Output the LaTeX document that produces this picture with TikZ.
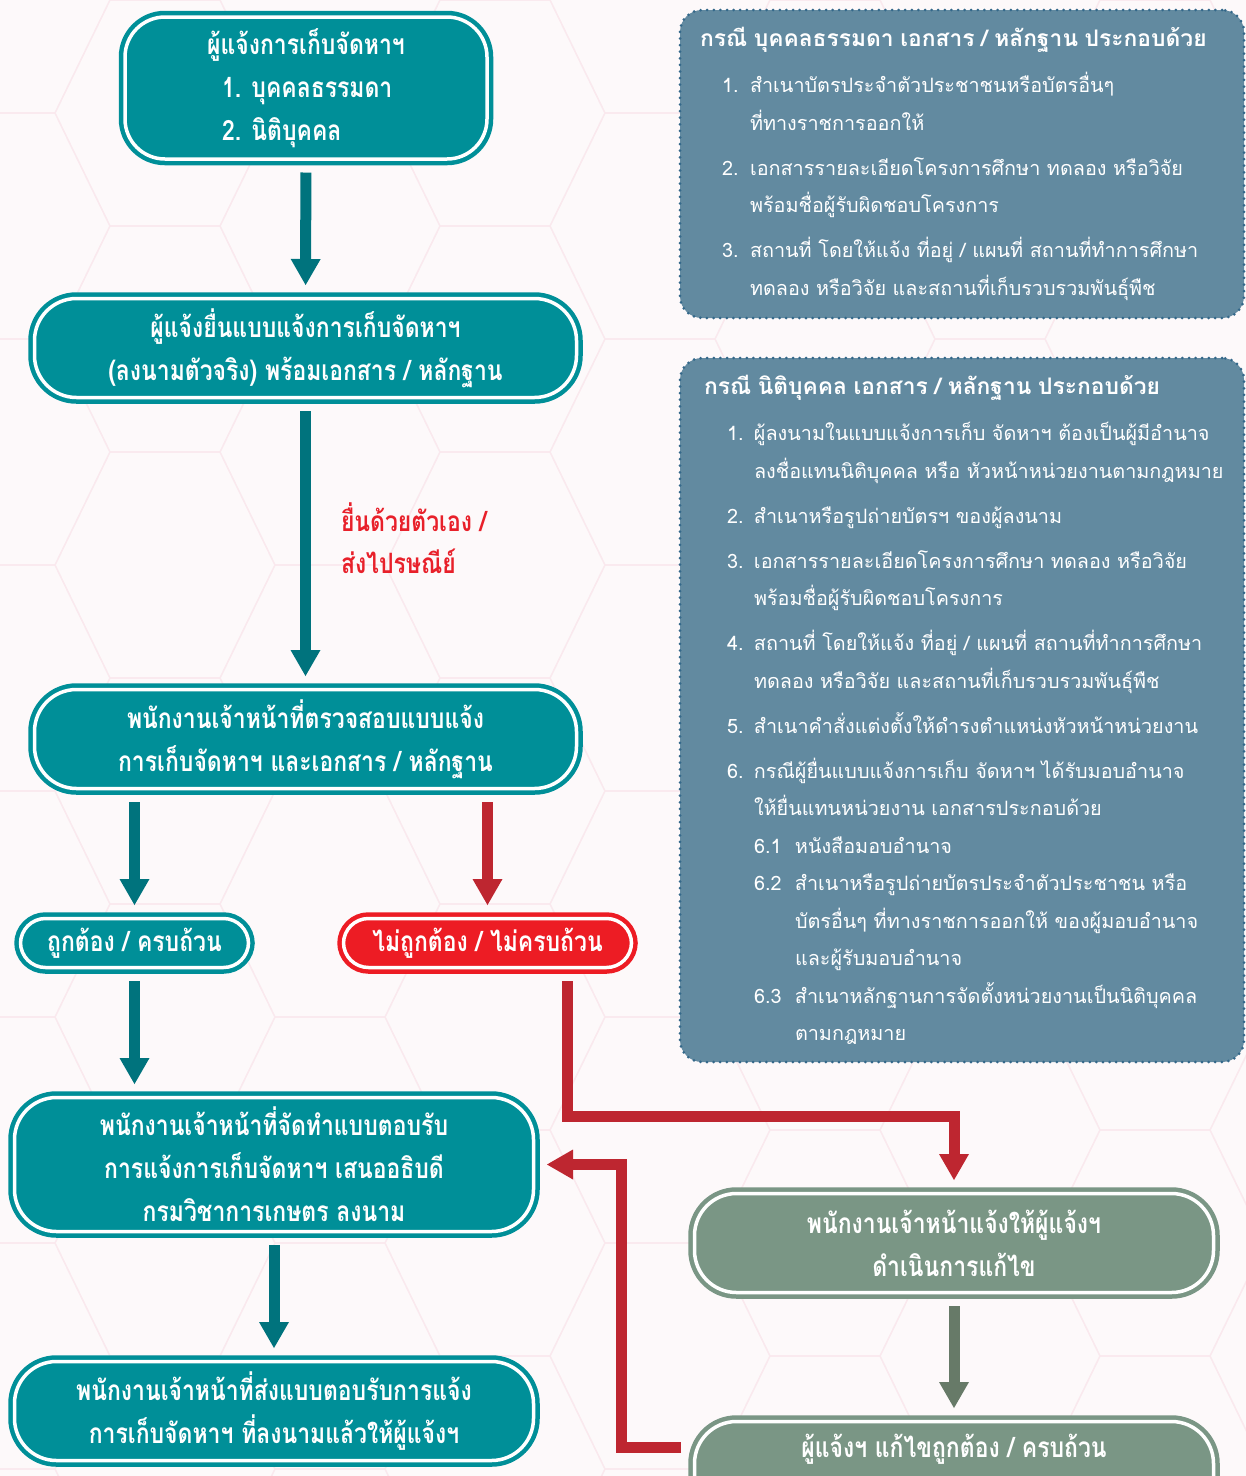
\documentclass[tikz,border=0pt]{standalone}
\usepackage{fontspec}
\usetikzlibrary{arrows.meta,calc}
\newfontfamily\boxfont[Script=Thai,FakeStretch=0.82]{Loma}
\newfontfamily\panelfont[Script=Thai]{Loma}
\definecolor{bgc}{RGB}{253,249,250}
\definecolor{hexc}{RGB}{250,233,238}
\definecolor{tealc}{RGB}{0,143,152}
\definecolor{tealarr}{RGB}{0,115,125}
\definecolor{redfill}{RGB}{237,28,36}
\definecolor{redarr}{RGB}{190,38,48}
\definecolor{lblred}{RGB}{232,32,42}
\definecolor{greenbox}{RGB}{122,150,133}
\definecolor{greenarr}{RGB}{103,122,104}
\definecolor{panelc}{RGB}{98,138,160}
\definecolor{dotc}{RGB}{52,104,138}
\tikzset{
  flowbox/.style={double=white, double distance=3.5pt, line width=4.5pt,
    rounded corners=42pt, text=white, align=center, inner sep=0pt, outer sep=6.5pt,
    font=\boxfont\bfseries\fontsize{28}{43}\selectfont},
  tealbox/.style={flowbox, draw=tealc, fill=tealc},
  redbox/.style={flowbox, draw=redfill, fill=redfill},
  greenbox/.style={flowbox, draw=greenbox, fill=greenbox},
  pill/.style={rounded corners=25pt},
  panel/.style={draw=dotc, fill=panelc, line width=3pt, dash pattern=on 0pt off 6.6pt,
    line cap=round, rounded corners=22pt, text=white, align=left, inner ysep=0pt,
    font=\panelfont\fontsize{19.8}{37.5}\selectfont},
  ptitle/.style={font=\panelfont\bfseries\fontsize{22.8}{37.5}\selectfont},
  tarrow/.style={draw=tealarr, line width=11pt,
    -{Triangle[width=30pt,length=26pt,line width=0pt]}, shorten <=7pt, shorten >=7pt},
  rarrow/.style={draw=redarr, line width=11pt,
    -{Triangle[width=30pt,length=26pt,line width=0pt]}, shorten <=7pt, shorten >=7pt},
  garrow/.style={draw=greenarr, line width=11pt,
    -{Triangle[width=30pt,length=26pt,line width=0pt]}, shorten <=7pt, shorten >=7pt},
  lbl/.style={text=lblred, align=left, inner sep=0pt,
    font=\boxfont\bfseries\fontsize{28}{42}\selectfont}
}
\newcommand{\ptitlefont}{\panelfont\bfseries\fontsize{22.8}{37.5}\selectfont}
\begin{document}
\begin{tikzpicture}[x=1pt,y=-1pt]
\useasboundingbox (0,0) rectangle (1246,1476);
\fill[bgc] (0,0) rectangle (1246,1476);
% faint hexagon background
\foreach \i in {0,...,8}{
  \foreach \j in {-1,...,7}{
    \pgfmathsetmacro\cx{\i*165}
    \pgfmathsetmacro\cy{\j*226+mod(\i,2)*113}
    \draw[hexc, line width=1.2pt] (\cx-110,\cy) -- (\cx-55,\cy-113) -- (\cx+55,\cy-113)
      -- (\cx+110,\cy) -- (\cx+55,\cy+113) -- (\cx-55,\cy+113) -- cycle;
  }
}
% flow boxes
\node[tealbox, minimum width=362, minimum height=142, rounded corners=40pt] (b1) at (306,88)
  {ผู้แจ้งการเก็บจัดหาฯ\\\makebox[168pt][l]{1. บุคคลธรรมดา}\\\makebox[168pt][l]{2. นิติบุคคล}};
\node[tealbox, minimum width=542, minimum height=99] (b2) at (305.5,348)
  {ผู้แจ้งยื่นแบบแจ้งการเก็บจัดหาฯ\\(ลงนามตัวจริง) พร้อมเอกสาร / หลักฐาน};
\node[tealbox, minimum width=542, minimum height=99] (b3) at (305.5,739)
  {พนักงานเจ้าหน้าที่ตรวจสอบแบบแจ้ง\\การเก็บจัดหาฯ และเอกสาร / หลักฐาน};
\node[tealbox, pill, minimum width=228, minimum height=49] (b4) at (134.5,943)
  {ถูกต้อง / ครบถ้วน};
\node[redbox, pill, minimum width=288, minimum height=49] (b5) at (487.5,943)
  {ไม่ถูกต้อง / ไม่ครบถ้วน};
\node[tealbox, minimum width=519, minimum height=134] (b6) at (274,1164.5)
  {พนักงานเจ้าหน้าที่จัดทำแบบตอบรับ\\การแจ้งการเก็บจัดหาฯ เสนออธิบดี\\กรมวิชาการเกษตร ลงนาม};
\node[tealbox, minimum width=519, minimum height=99] (b7) at (274,1411)
  {พนักงานเจ้าหน้าที่ส่งแบบตอบรับการแจ้ง\\การเก็บจัดหาฯ ที่ลงนามแล้วให้ผู้แจ้งฯ};
\node[greenbox, minimum width=519, minimum height=99] (b8) at (954,1243)
  {พนักงานเจ้าหน้าแจ้งให้ผู้แจ้งฯ\\ดำเนินการแก้ไข};
\node[greenbox, minimum width=519, minimum height=99, text height=18pt, text depth=46pt] (b9) at (954,1471)
  {ผู้แจ้งฯ แก้ไขถูกต้อง / ครบถ้วน};
% side panels
\node[panel, minimum width=564, minimum height=308, text width=524, inner xsep=20pt] (p1) at (962,164)
  {{\ptitlefont กรณี บุคคลธรรมดา เอกสาร / หลักฐาน ประกอบด้วย}\\[8.5pt]
   \hspace*{22pt}\makebox[28pt][l]{1.}สำเนาบัตรประจำตัวประชาชนหรือบัตรอื่นๆ\\
   \hspace*{50pt}ที่ทางราชการออกให้\\[7.5pt]
   \hspace*{22pt}\makebox[28pt][l]{2.}เอกสารรายละเอียดโครงการศึกษา ทดลอง หรือวิจัย\\
   \hspace*{50pt}พร้อมชื่อผู้รับผิดชอบโครงการ\\[7.5pt]
   \hspace*{22pt}\makebox[28pt][l]{3.}สถานที่ โดยให้แจ้ง ที่อยู่ / แผนที่ สถานที่ทำการศึกษา\\
   \hspace*{50pt}ทดลอง หรือวิจัย และสถานที่เก็บรวบรวมพันธุ์พืช};
\node[panel, minimum width=564, minimum height=704, text width=530, inner xsep=17pt] (p2) at (962,710)
  {\hspace*{7pt}{\ptitlefont กรณี นิติบุคคล เอกสาร / หลักฐาน ประกอบด้วย}\\[8.5pt]
   \hspace*{30pt}\makebox[27pt][l]{1.}ผู้ลงนามในแบบแจ้งการเก็บ จัดหาฯ ต้องเป็นผู้มีอำนาจ\\
   \hspace*{57pt}ลงชื่อแทนนิติบุคคล หรือ หัวหน้าหน่วยงานตามกฎหมาย\\[7.5pt]
   \hspace*{30pt}\makebox[27pt][l]{2.}สำเนาหรือรูปถ่ายบัตรฯ ของผู้ลงนาม\\[7.5pt]
   \hspace*{30pt}\makebox[27pt][l]{3.}เอกสารรายละเอียดโครงการศึกษา ทดลอง หรือวิจัย\\
   \hspace*{57pt}พร้อมชื่อผู้รับผิดชอบโครงการ\\[7.5pt]
   \hspace*{30pt}\makebox[27pt][l]{4.}สถานที่ โดยให้แจ้ง ที่อยู่ / แผนที่ สถานที่ทำการศึกษา\\
   \hspace*{57pt}ทดลอง หรือวิจัย และสถานที่เก็บรวบรวมพันธุ์พืช\\[7.5pt]
   \hspace*{30pt}\makebox[27pt][l]{5.}สำเนาคำสั่งแต่งตั้งให้ดำรงตำแหน่งหัวหน้าหน่วยงาน\\[7.5pt]
   \hspace*{30pt}\makebox[27pt][l]{6.}กรณีผู้ยื่นแบบแจ้งการเก็บ จัดหาฯ ได้รับมอบอำนาจ\\
   \hspace*{57pt}ให้ยื่นแทนหน่วยงาน เอกสารประกอบด้วย\\
   \hspace*{57pt}\makebox[41pt][l]{6.1}หนังสือมอบอำนาจ\\
   \hspace*{57pt}\makebox[41pt][l]{6.2}สำเนาหรือรูปถ่ายบัตรประจำตัวประชาชน หรือ\\
   \hspace*{98pt}บัตรอื่นๆ ที่ทางราชการออกให้ ของผู้มอบอำนาจ\\
   \hspace*{98pt}และผู้รับมอบอำนาจ\\
   \hspace*{57pt}\makebox[41pt][l]{6.3}สำเนาหลักฐานการจัดตั้งหน่วยงานเป็นนิติบุคคล\\
   \hspace*{98pt}ตามกฎหมาย};
% connectors
\draw[tarrow] (b1) -- (b2);
\draw[tarrow] (b2.south) -- node[lbl, anchor=west, xshift=30pt, pos=0.48] (lab)
  {ยื่นด้วยตัวเอง /\\ส่งไปรษณีย์} (b3.north);
\draw[tarrow] (b3.south -| b4.north) -- (b4.north);
\draw[rarrow] (b3.south -| b5.north) -- (b5.north);
\draw[tarrow] (b4.south) -- (b4.south |- b6.north);
\draw[tarrow] (b6.south -| b7.north) -- (b7.north);
\coordinate (r1) at (567,1116);
\draw[rarrow] (b5.south -| r1) -- (r1) -| (b8.north);
\draw[garrow] (b8) -- (b9.north);
\coordinate (r2) at (621,1164.5);
\coordinate (r3) at ([yshift=24pt]b9.west);
\draw[rarrow] (r3) -| (r2) -- (b6.east);
\end{tikzpicture}
\end{document}
